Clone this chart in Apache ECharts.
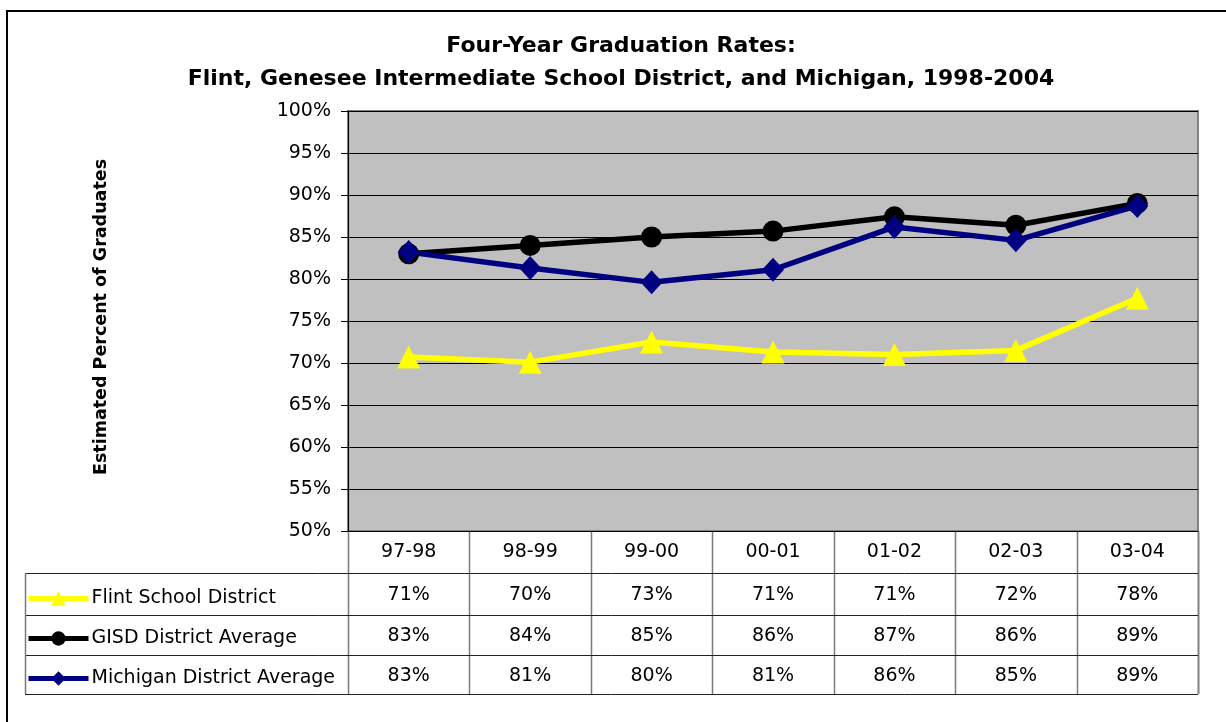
<!DOCTYPE html>
<html>
<head>
<meta charset="utf-8">
<script src="https://cdn.jsdelivr.net/npm/echarts@6/dist/echarts.min.js"></script>
<style>
  html, body { margin: 0; padding: 0; background: #fff; }
  #chart { width: 1226px; height: 722px; }
</style>
</head>
<body>
<div id="chart"></div>
<script>
// school years on the x axis
const years = ['97-98', '98-99', '99-00', '00-01', '01-02', '02-03', '03-04'];
// estimated graduation rates (%) read off the plotted points
const flint = [70.7, 70.1, 72.5, 71.3, 71.0, 71.5, 77.7];
const gisd = [83.0, 84.0, 85.0, 85.7, 87.4, 86.4, 89.0];
const michigan = [83.2, 81.3, 79.6, 81.1, 86.2, 84.6, 88.7];
const seriesNames = ['Flint School District', 'GISD District Average', 'Michigan District Average'];

const FONT = 'DejaVu Sans, Liberation Sans, sans-serif';
const pct = arr => arr.map(v => Math.round(v) + '%');

const chart = echarts.init(document.getElementById('chart'));

function tableAxis(data, offset) {
    return {
        type: 'category',
        data: data,
        position: 'bottom',
        offset: offset,
        boundaryGap: true,
        axisLine: { show: false },
        axisTick: { show: false },
        splitLine: { show: false },
        axisLabel: { fontFamily: FONT, fontSize: 19, color: '#000', margin: 12, interval: 0 }
    };
}

function legendRow(name, top) {
    return {
        data: [name],
        left: 26,
        top: top,
        padding: 0,
        itemWidth: 60,
        itemHeight: 18,
        itemGap: 0,
        selectedMode: false,
        lineStyle: { width: 5 },
        textStyle: { fontFamily: FONT, fontSize: 19, color: '#000', padding: [0, 0, 0, -2] }
    };
}

chart.setOption({
    animation: false,
    backgroundColor: '#fff',
    title: {
        text: 'Four-Year Graduation Rates:\nFlint, Genesee Intermediate School District, and Michigan, 1998-2004',
        left: 616,
        top: 25,
        textAlign: 'center',
        textStyle: { fontFamily: FONT, fontSize: 22, fontWeight: 'bold', color: '#000', lineHeight: 33 }
    },
    legend: [
        legendRow(seriesNames[0], 589),
        legendRow(seriesNames[1], 629),
        legendRow(seriesNames[2], 669)
    ],
    grid: {
        left: 348, right: 28, top: 111, height: 420,
        show: true,
        backgroundColor: '#C0C0C0',
        borderColor: '#808080',
        borderWidth: 2
    },
    xAxis: [
        {
            type: 'category',
            data: years,
            boundaryGap: true,
            axisLine: { lineStyle: { color: '#000', width: 1 } },
            axisTick: { show: false },
            axisLabel: { fontFamily: FONT, fontSize: 19, color: '#000', margin: 12, interval: 0 }
        },
        tableAxis(pct(flint), 43),
        tableAxis(pct(gisd), 84),
        tableAxis(pct(michigan), 124)
    ],
    yAxis: {
        type: 'value',
        min: 50,
        max: 100,
        interval: 5,
        name: 'Estimated Percent of Graduates',
        nameLocation: 'middle',
        nameGap: 238,
        nameTextStyle: { fontFamily: FONT, fontSize: 17.5, fontWeight: 'bold', color: '#000', padding: [0, 0, 0, 8] },
        axisLine: { show: true, lineStyle: { color: '#000', width: 1 } },
        axisTick: { show: true, length: 7, lineStyle: { color: '#000' } },
        axisLabel: { fontFamily: FONT, fontSize: 19, color: '#000', margin: 17, formatter: '{value}%' },
        splitLine: { lineStyle: { color: '#000', width: 1 } }
    },
    series: [
        {
            name: seriesNames[0], type: 'line', data: flint,
            symbol: 'triangle', symbolSize: 23,
            itemStyle: { color: '#FFFF00' },
            lineStyle: { color: '#FFFF00', width: 5.5 }
        },
        {
            name: seriesNames[1], type: 'line', data: gisd,
            symbol: 'circle', symbolSize: 21,
            itemStyle: { color: '#000' },
            lineStyle: { color: '#000', width: 5.5 }
        },
        {
            name: seriesNames[2], type: 'line', data: michigan,
            symbol: 'diamond', symbolSize: [22, 24],
            itemStyle: { color: '#000080' },
            lineStyle: { color: '#000080', width: 5.5 }
        }
    ]
});

// data table grid lines + outer frame
const c0 = chart.convertToPixel({ xAxisIndex: 0 }, 0);
const c1 = chart.convertToPixel({ xAxisIndex: 0 }, 1);
const band = c1 - c0;
const x0 = c0 - band / 2;
const xEnd = x0 + band * years.length;
const rows = [573, 615, 655, 694];
const els = [];
for (let i = 0; i <= years.length; i++) {
    const x = Math.round(x0 + band * i) + 0.5;
    els.push({
        type: 'line', silent: true,
        shape: { x1: x, y1: i === 0 ? 111 : 531, x2: x, y2: 694 },
        style: { stroke: i === years.length ? '#808080' : '#7a7a7a', lineWidth: i === years.length ? 2 : 1.5 }
    });
}
rows.forEach(y => {
    els.push({
        type: 'line', silent: true,
        shape: { x1: 25, y1: y + 0.5, x2: xEnd, y2: y + 0.5 },
        style: { stroke: '#222', lineWidth: 1 }
    });
});
els.push({
    type: 'line', silent: true,
    shape: { x1: 25.5, y1: 573, x2: 25.5, y2: 694 },
    style: { stroke: '#7a7a7a', lineWidth: 1.5 }
});
els.push({
    type: 'rect', silent: true,
    shape: { x: 7, y: 11, width: 1240, height: 740 },
    style: { fill: 'none', stroke: '#000', lineWidth: 2 }
});
chart.setOption({ graphic: els });
</script>
</body>
</html>
